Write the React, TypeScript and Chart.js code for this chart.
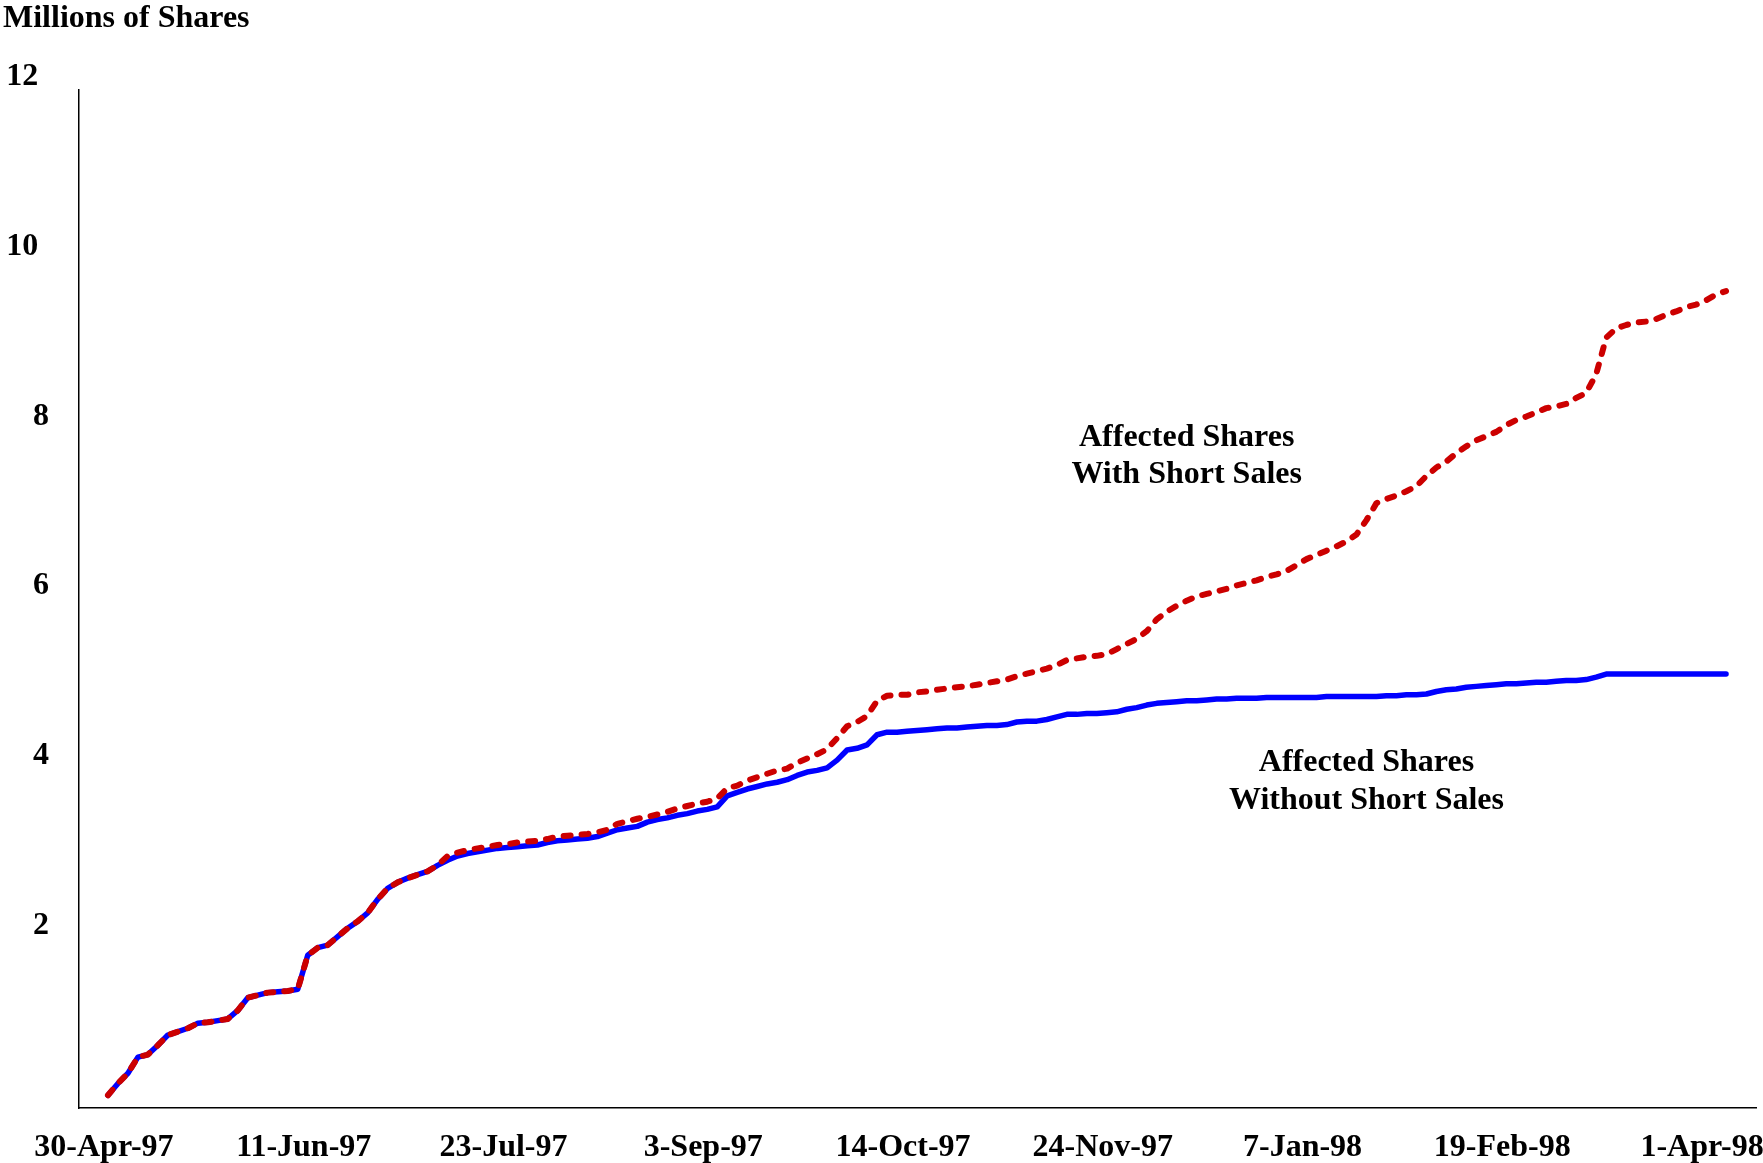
import { useEffect, useRef } from 'react';
import { Chart, registerables } from 'chart.js';

Chart.register(...registerables);

// X tick labels (one every POINTS_PER_TICK observations)
const tickLabels = ['30-Apr-97', '11-Jun-97', '23-Jul-97', '3-Sep-97', '14-Oct-97', '24-Nov-97', '7-Jan-98', '19-Feb-98', '1-Apr-98'];
const POINTS_PER_TICK = 20;

// Y tick labels
const yTickValues = [2, 4, 6, 8, 10, 12];

// Affected shares without short sales (millions)
const withoutShortSales = [
  0.15, 0.29, 0.41, 0.60, 0.63, 0.74, 0.86, 0.90, 0.94, 1.00,
  1.01, 1.03, 1.05, 1.15, 1.30, 1.33, 1.36, 1.37, 1.38, 1.40,
  1.80, 1.89, 1.92, 2.02, 2.12, 2.20, 2.30, 2.46, 2.59, 2.66,
  2.71, 2.75, 2.79, 2.86, 2.92, 2.97, 3.00, 3.02, 3.04, 3.06,
  3.07, 3.08, 3.09, 3.10, 3.13, 3.15, 3.16, 3.17, 3.18, 3.20,
  3.24, 3.28, 3.30, 3.32, 3.37, 3.40, 3.42, 3.45, 3.47, 3.50,
  3.52, 3.55, 3.68, 3.72, 3.76, 3.79, 3.82, 3.84, 3.87, 3.92,
  3.96, 3.98, 4.01, 4.10, 4.22, 4.24, 4.28, 4.40, 4.43, 4.43,
  4.44, 4.45, 4.46, 4.47, 4.48, 4.48, 4.49, 4.50, 4.51, 4.51,
  4.52, 4.55, 4.56, 4.56, 4.58, 4.61, 4.64, 4.64, 4.65, 4.65,
  4.66, 4.67, 4.70, 4.72, 4.75, 4.77, 4.78, 4.79, 4.80, 4.80,
  4.81, 4.82, 4.82, 4.83, 4.83, 4.83, 4.84, 4.84, 4.84, 4.84,
  4.84, 4.84, 4.85, 4.85, 4.85, 4.85, 4.85, 4.85, 4.86, 4.86,
  4.87, 4.87, 4.88, 4.91, 4.93, 4.94, 4.96, 4.97, 4.98, 4.99,
  5.00, 5.00, 5.01, 5.02, 5.02, 5.03, 5.04, 5.04, 5.05, 5.08,
  5.115, 5.115, 5.115, 5.115, 5.115, 5.115, 5.115, 5.115, 5.115, 5.115,
  5.115, 5.115, 5.115,
];

// Affected shares with short sales (millions)
const withShortSales = [
  0.15, 0.29, 0.41, 0.60, 0.63, 0.74, 0.86, 0.90, 0.94, 1.00,
  1.01, 1.03, 1.05, 1.15, 1.30, 1.33, 1.36, 1.37, 1.38, 1.40,
  1.80, 1.89, 1.92, 2.02, 2.12, 2.20, 2.30, 2.46, 2.59, 2.66,
  2.71, 2.75, 2.79, 2.86, 2.97, 3.01, 3.04, 3.06, 3.08, 3.10,
  3.11, 3.13, 3.14, 3.15, 3.17, 3.20, 3.21, 3.22, 3.23, 3.25,
  3.28, 3.35, 3.38, 3.41, 3.43, 3.46, 3.49, 3.53, 3.56, 3.59,
  3.61, 3.65, 3.77, 3.80, 3.86, 3.90, 3.94, 3.98, 4.00, 4.07,
  4.12, 4.17, 4.23, 4.36, 4.50, 4.55, 4.62, 4.80, 4.86, 4.87,
  4.87, 4.90, 4.91, 4.93, 4.945, 4.96, 4.97, 4.99, 5.01, 5.03,
  5.05, 5.09, 5.12, 5.15, 5.18, 5.22, 5.28, 5.30, 5.32, 5.33,
  5.35, 5.41, 5.47, 5.53, 5.62, 5.76, 5.85, 5.92, 5.98, 6.03,
  6.06, 6.09, 6.12, 6.16, 6.19, 6.22, 6.26, 6.29, 6.33, 6.40,
  6.47, 6.52, 6.57, 6.62, 6.68, 6.76, 6.93, 7.13, 7.18, 7.22,
  7.27, 7.33, 7.45, 7.55, 7.62, 7.72, 7.80, 7.87, 7.92, 7.97,
  8.05, 8.11, 8.15, 8.20, 8.25, 8.27, 8.30, 8.37, 8.43, 8.65,
  9.08, 9.19, 9.23, 9.26, 9.27, 9.30, 9.35, 9.39, 9.44, 9.47,
  9.52, 9.59, 9.63,
];

// In-chart annotations: text lines anchored at (observation index, value)
const annotationTexts = ['Affected Shares', 'With Short Sales', 'Affected Shares', 'Without Short Sales'];
const annotationX = [108, 108, 126, 126];
const annotationY = [7.90, 7.46, 4.07, 3.62];

const axisTitle = 'Millions of Shares';

const FONT_FAMILY = '"Liberation Serif", "Times New Roman", Times, serif';
const FONT_SIZE = 32;

export default function App() {
  const canvasRef = useRef<HTMLCanvasElement>(null);

  useEffect(() => {
    document.body.style.margin = '0';
    const canvas = canvasRef.current;
    if (!canvas) return;

    const textPlugin = {
      id: 'textPlugin',
      afterDraw(chart: any) {
        const { ctx } = chart;
        const xs = chart.scales.x;
        const ys = chart.scales.y;
        ctx.save();
        ctx.fillStyle = '#000';
        ctx.font = `bold ${FONT_SIZE}px ${FONT_FAMILY}`;
        ctx.textAlign = 'left';
        ctx.textBaseline = 'middle';
        ctx.fillText(axisTitle, 3, 19);
        ctx.textAlign = 'center';
        annotationTexts.forEach((t, i) => {
          ctx.fillText(t, xs.getPixelForValue(annotationX[i]), ys.getPixelForValue(annotationY[i]));
        });
        ctx.restore();
      },
    };

    const n = withoutShortSales.length;
    const tickFont = { family: FONT_FAMILY, size: FONT_SIZE, weight: 'bold' as const };

    const chart = new Chart(canvas, {
      type: 'line',
      data: {
        datasets: [
          {
            label: 'Affected Shares With Short Sales',
            data: withShortSales.map((v, i) => ({ x: i, y: v })),
            borderColor: '#CC0000',
            borderWidth: 6,
            borderDash: [7, 11],
            borderCapStyle: 'round',
            borderJoinStyle: 'round',
            pointRadius: 0,
            tension: 0,
            fill: false,
            order: 0,
          },
          {
            label: 'Affected Shares Without Short Sales',
            data: withoutShortSales.map((v, i) => ({ x: i, y: v })),
            borderColor: '#0000FF',
            borderWidth: 5.5,
            borderCapStyle: 'round',
            borderJoinStyle: 'round',
            pointRadius: 0,
            tension: 0,
            fill: false,
            order: 1,
          },
        ],
      },
      options: {
        animation: false,
        responsive: false,
        maintainAspectRatio: false,
        layout: { autoPadding: false, padding: { top: 90, right: 7, left: 0, bottom: 0 } },
        plugins: { legend: { display: false }, tooltip: { enabled: false } },
        scales: {
          x: {
            type: 'linear',
            min: -2.9,
            max: n - 1 + 3,
            grid: { display: false, drawTicks: false },
            border: { display: true, color: '#000', width: 1.5 },
            afterBuildTicks: (s: any) => {
              s.ticks = tickLabels.map((_, i) => ({ value: i * POINTS_PER_TICK }));
            },
            afterFit: (s: any) => {
              s.height = 55;
              s.paddingLeft = 0;
              s.paddingRight = 0;
            },
            ticks: {
              autoSkip: false,
              maxRotation: 0,
              minRotation: 0,
              padding: 21,
              labelOffset: -4,
              color: '#000',
              font: tickFont,
              callback: (v: any) => tickLabels[Math.round(Number(v) / POINTS_PER_TICK)] ?? '',
            },
          },
          y: {
            type: 'linear',
            min: 0,
            max: 12,
            grid: { display: false, drawTicks: false },
            border: { display: true, color: '#000', width: 1.5 },
            afterBuildTicks: (s: any) => {
              s.ticks = yTickValues.map((v) => ({ value: v }));
            },
            afterFit: (s: any) => {
              s.width = 79;
            },
            ticks: {
              padding: 30,
              labelOffset: -13,
              color: '#000',
              font: tickFont,
              callback: (v: any) => String(v) + (Number(v) >= 10 ? '\u2004' : ''),
            },
          },
        },
      },
      plugins: [textPlugin],
    });

    return () => chart.destroy();
  }, []);

  return <canvas ref={canvasRef} width={1763} height={1163} style={{ display: 'block' }} />;
}
